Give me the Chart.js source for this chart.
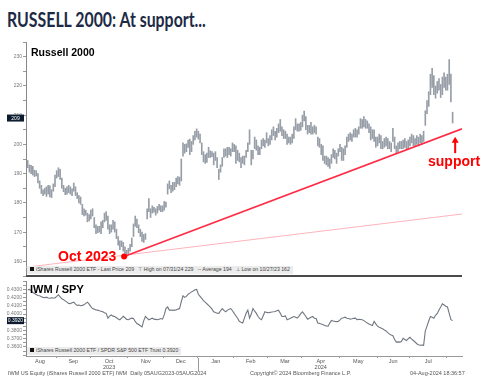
<!DOCTYPE html>
<html>
<head>
<meta charset="utf-8">
<script src="https://cdn.jsdelivr.net/npm/chart.js@4.4.1/dist/chart.umd.min.js"></script>
<style>
body{margin:0;width:480px;height:384px;background:#fff;position:relative;overflow:hidden;font-family:"Liberation Sans",Arial,sans-serif}
.abs{position:absolute;white-space:nowrap;line-height:1}
#title{left:7px;top:9px;font-weight:bold;font-size:20px;font-family:Lato,sans-serif;color:#1d2a45;transform-origin:0 0}
.panel{font-weight:bold;color:#000}
.red{font-weight:bold;color:#ff0000;font-size:14px}
.leg{font-size:5.2px;color:#444;background:#ececec;padding:1px 3px;height:6px}
.leg b{display:inline-block;width:4px;height:4px;background:#111;margin-right:2px}
.foot{font-size:5.5px;color:#555}
canvas{position:absolute;left:0}
</style>
</head>
<body>
<div id="title" class="abs">RUSSELL 2000: At support...</div>
<canvas id="top" style="top:38px"></canvas>
<canvas id="bottom" style="top:277px"></canvas>
<div class="abs panel" style="left:31px;top:47px;font-size:10.5px">Russell 2000</div>
<div class="abs panel" style="left:30px;top:284px;font-size:11px">IWM / SPY</div>
<div class="abs red" style="left:58px;top:249px">Oct 2023</div>
<div class="abs red" style="left:428px;top:154px">support</div>
<div class="abs leg" style="left:27px;top:266px"><b></b>iShares Russell 2000 ETF - Last Price 209 &nbsp;&nbsp;⊤ High on 07/31/24 229 &nbsp;&nbsp;-- Average 194 &nbsp;&nbsp;⊥ Low on 10/27/23 162</div>
<div class="abs leg" style="left:27px;top:347px"><b></b>iShares Russell 2000 ETF / SPDR S&amp;P 500 ETF Trust 0.3920</div>
<div class="abs foot" style="left:8px;top:371px">IWM US Equity (iShares Russell 2000 ETF) IWM &nbsp;Daily 05AUG2023-05AUG2024</div>
<div class="abs foot" style="left:250px;top:371px">Copyright© 2024 Bloomberg Finance L.P.</div>
<div class="abs foot" style="left:410px;top:371px">04-Aug-2024 18:36:57</div>
<script>
// trading days 07 Aug 2023 .. 02 Aug 2024, index 0..249
const lows = [
192.0,190.5,190.0,189.5,189.0,189.2,186.8,185.0,183.2,182.5,
183.0,182.2,183.0,182.0,181.8,184.0,185.5,188.5,189.0,
188.0,185.0,183.8,182.8,183.0,183.5,183.0,182.5,184.0,182.5,
181.5,180.0,179.5,176.0,175.5,175.8,173.5,173.8,174.5,175.5,
171.5,169.5,169.8,170.0,169.5,171.5,173.5,174.0,171.0,169.5,
170.0,171.0,170.0,167.8,165.5,164.0,165.0,163.5,162.5,161.6,
162.5,163.5,
165.0,168.5,172.0,171.5,169.8,168.5,166.8,166.5,167.5,174.5,
177.0,175.0,176.5,176.8,175.8,176.5,177.5,177.0,177.0,177.5,178.5,
183.0,184.8,183.5,184.0,184.5,185.5,186.5,186.0,187.5,196.0,
197.0,197.5,199.0,196.5,197.5,200.0,201.5,202.5,201.8,200.5,
196.5,194.0,193.5,193.8,195.5,195.5,195.8,193.0,194.5,192.0,
188.0,190.5,192.5,195.5,196.0,195.5,196.5,196.0,197.5,197.5,193.5,
194.5,194.0,192.0,193.5,193.0,195.5,197.5,200.0,193.0,195.0,
198.5,198.0,196.5,196.5,198.5,199.5,199.0,200.5,199.5,200.0,
201.5,203.0,201.5,202.5,204.0,204.5,203.0,202.0,202.0,200.0,
200.5,200.0,200.5,202.0,205.0,204.5,204.5,204.8,206.0,208.0,
205.0,203.5,204.0,203.5,203.5,204.0,203.5,199.5,199.0,196.5,
194.5,193.5,193.0,192.5,191.8,193.5,195.5,195.0,193.5,196.0,197.5,194.5,
194.5,196.5,199.0,201.0,201.5,201.0,202.5,202.5,202.5,203.5,
205.5,205.5,206.0,205.5,205.5,204.0,201.5,202.0,201.0,199.0,199.5,200.5,
198.5,198.5,199.0,199.5,198.5,198.5,197.5,201.0,198.5,197.0,
197.5,198.5,198.5,198.5,199.0,198.5,198.5,199.5,200.5,
199.5,199.5,200.0,199.5,200.5,200.0,201.0,206.5,210.5,213.0,
217.0,219.5,217.0,215.8,217.5,218.5,216.0,217.0,219.5,218.5,218.5,220.5,
214.5,207.3
];
const highs = [
194.5,193.0,192.8,192.5,191.2,191.0,190.0,187.5,186.0,184.5,
185.0,185.5,186.0,185.8,184.5,186.5,189.5,191.0,192.0,
191.5,188.5,186.0,185.0,185.5,186.0,185.5,184.8,186.8,185.5,
183.5,182.5,182.0,179.5,178.0,177.5,176.5,176.0,177.5,178.0,
175.0,172.5,172.0,172.0,173.5,174.0,176.5,177.0,175.5,172.5,
172.5,174.0,173.5,171.0,168.5,167.0,167.0,166.5,165.0,163.8,
164.5,165.8,
168.0,172.8,175.5,174.5,172.5,171.0,170.0,169.2,169.5,178.0,
181.5,178.0,179.0,178.5,178.0,178.8,179.5,179.0,179.0,180.5,180.3,
186.5,187.5,186.0,187.0,187.0,188.5,189.0,188.8,195.0,200.5,
200.0,200.2,201.5,201.8,201.0,203.0,204.5,205.3,204.5,203.5,
200.5,197.5,196.5,197.0,199.0,197.8,197.5,197.0,197.5,195.5,
191.5,193.0,195.5,198.5,198.5,199.0,199.0,198.5,200.5,200.0,199.5,
198.0,197.0,195.5,196.0,196.0,198.0,200.5,205.0,198.0,198.0,
202.5,201.5,199.5,199.0,201.5,202.0,201.5,204.0,202.0,203.0,
205.0,206.0,204.5,205.5,207.0,208.5,206.0,205.0,204.5,203.5,
202.5,202.5,203.5,206.0,208.8,207.0,207.0,207.5,210.0,211.4,
209.5,206.5,206.5,207.5,206.0,206.5,206.0,202.5,202.0,200.0,
199.5,196.0,196.0,195.5,195.0,196.5,198.5,198.0,197.0,198.5,200.0,199.0,
198.5,199.5,202.5,203.5,204.0,203.5,205.0,205.5,205.0,206.0,
208.8,208.5,209.5,208.5,208.0,207.0,206.0,205.0,205.0,202.5,202.5,203.5,
203.0,201.0,202.0,202.5,202.0,201.0,200.5,205.5,202.5,199.5,
200.5,201.0,201.0,201.5,202.0,201.0,201.5,202.5,203.5,
203.0,202.0,203.0,202.5,203.5,203.0,204.5,211.5,215.0,218.0,
224.0,226.0,223.5,220.0,221.5,222.5,220.5,223.0,224.5,223.0,224.0,229.0,
224.0,211.0
];
const ratio = [
0.4295,0.4300,0.4285,0.4262,0.4250,0.4238,0.4225,0.4222,0.4210,0.4203,
0.4198,0.4205,0.4195,0.4192,0.4198,0.4195,0.4196,0.4215,0.4235,0.4210,
0.4185,0.4175,0.4160,0.4145,0.4130,0.4125,0.4138,0.4145,0.4120,0.4106,
0.4110,0.4102,0.4106,0.4112,0.4130,0.4145,0.4120,0.4090,0.4067,0.4060,
0.4050,0.4048,0.4040,0.4035,0.4028,0.4015,0.4008,0.3950,0.3975,0.3989,
0.3975,0.3970,0.3955,0.3940,0.3931,0.3950,0.3972,0.3955,0.3935,0.3931,
0.3942,0.3950,0.3945,0.3910,0.3885,0.3872,0.3858,0.3844,0.3920,0.3970,
0.3950,0.3931,0.3940,0.3950,0.3938,0.3935,0.3931,0.3938,0.3945,0.3938,
0.3990,0.4067,0.4086,0.4048,0.4050,0.4045,0.4048,0.4050,0.4060,0.4067,
0.4150,0.4222,0.4203,0.4215,0.4241,0.4255,0.4270,0.4280,0.4295,0.4300,
0.4241,0.4215,0.4190,0.4164,0.4145,0.4125,0.4106,0.4085,0.4060,0.4028,
0.4018,0.4010,0.4008,0.4040,0.4067,0.4045,0.4028,0.4045,0.4060,0.4067,
0.4040,0.4008,0.3980,0.3950,0.3911,0.3900,0.3892,0.3950,0.4010,0.4048,
0.3950,0.4000,0.4067,0.4035,0.4008,0.3970,0.3945,0.3931,0.3980,0.4028,
0.4020,0.4016,0.4020,0.4025,0.4028,0.4032,0.4040,0.4048,0.4010,0.3970,
0.3972,0.3978,0.3931,0.3940,0.3950,0.3962,0.3970,0.3960,0.3950,0.3975,
0.4005,0.4028,0.4000,0.3970,0.3938,0.3950,0.3960,0.3970,0.3950,0.3945,
0.3892,0.3885,0.3878,0.3872,0.3862,0.3855,0.3853,0.3890,0.3923,0.3915,
0.3911,0.3908,0.3911,0.3930,0.3950,0.3955,0.3962,0.3950,0.3945,0.3938,
0.3942,0.3948,0.3950,0.3931,0.3935,0.3933,0.3931,0.3920,0.3905,0.3892,
0.3880,0.3870,0.3861,0.3911,0.3880,0.3853,0.3840,0.3830,0.3821,0.3805,
0.3795,0.3775,0.3756,0.3745,0.3737,0.3690,0.3659,0.3662,0.3659,0.3666,
0.3705,0.3690,0.3678,0.3700,0.3717,0.3695,0.3678,0.3660,0.3639,0.3628,
0.3620,0.3622,0.3620,0.3795,0.3853,0.3915,0.3970,0.3960,0.3950,0.3985,
0.4008,0.4050,0.4086,0.4125,0.4110,0.4095,0.4086,0.4008,0.3931,0.3920
];
const monthNames = ['Aug','Sep','Oct','Nov','Dec','Jan','Feb','Mar','Apr','May','Jun','Jul'];
const yearUnder  = ['','','2023','','','','','','2024','','',''];
const monthLabelAt = [7.2,26.7,47.7,69.2,89.7,110.2,130.7,150.7,171.7,193.7,214.2,234.7];
const monthEdgeAt = [16.7,36.7,58.7,79.7,99.7,120.7,140.7,160.7,182.7,204.7,223.7,245.7];
const yearEdgeAt = 99.7;
const lastPrice = 209, lastRatio = 0.3920;
const supportX = [56.5, 254.5], supportY = [161.7, 205.3];
const faintX = [-1, 254.5], faintY = [158.0, 176.2];
const arrowAt = [250.5, 202.6, 197.0];   // x, tip, tail

const xMin = -1, xMax = 254.5;
const W = 480;

function sizeCanvas(id, h) {
    const c = document.getElementById(id);
    c.width = W; c.height = h;
    c.style.width = W + 'px'; c.style.height = h + 'px';
    return c;
}

function lastLabel(text, yPix, ctx) {
    ctx.save();
    ctx.fillStyle = '#0c1c2e';
    ctx.fillRect(7, yPix - 3.5, 17, 7);
    ctx.fillStyle = '#fff';
    ctx.font = '5px "Liberation Sans", Arial';
    ctx.textAlign = 'center';
    ctx.textBaseline = 'middle';
    ctx.fillText(text, 15.5, yPix + 0.3);
    ctx.restore();
}

const topPlugin = {
    id: 'topAnnot',
    afterDatasetsDraw(chart) {
        const {ctx, chartArea: a, scales: {x, y}} = chart;
        ctx.save();
        ctx.fillStyle = '#4a4a4a';
        ctx.fillRect(a.left, a.bottom - 1, a.right - a.left, 2);
        const ax = x.getPixelForValue(arrowAt[0]);
        const tip = y.getPixelForValue(arrowAt[1]);
        const tail = y.getPixelForValue(arrowAt[2]);
        ctx.strokeStyle = '#ff0000';
        ctx.lineWidth = 2;
        ctx.beginPath(); ctx.moveTo(ax, tail); ctx.lineTo(ax, tip + 4); ctx.stroke();
        ctx.fillStyle = '#ff0000';
        ctx.beginPath();
        ctx.moveTo(ax, tip); ctx.lineTo(ax - 3.5, tip + 6); ctx.lineTo(ax + 3.5, tip + 6);
        ctx.closePath(); ctx.fill();
        ctx.restore();
    },
    afterDraw(chart) {
        lastLabel(String(lastPrice), chart.scales.y.getPixelForValue(lastPrice), chart.ctx);
    }
};

const bottomPlugin = {
    id: 'bottomAnnot',
    afterDraw(chart) {
        const {ctx, chartArea: a, scales: {x, y}} = chart;
        ctx.save();
        ctx.strokeStyle = '#999';
        ctx.lineWidth = 1;
        const yx = Math.round(x.getPixelForValue(yearEdgeAt)) + 0.5;
        ctx.beginPath(); ctx.moveTo(yx, a.bottom + 2); ctx.lineTo(yx, a.bottom + 15); ctx.stroke();
        ctx.restore();
        lastLabel(lastRatio.toFixed(4), y.getPixelForValue(lastRatio), ctx);
    }
};

function yAxis(min, max, step, fmt, showLabel) {
    return {
        min: min, max: max,
        afterBuildTicks: (ax) => {
            const t = [];
            for (let v = min; v <= max + step / 10; v += step) t.push({value: +v.toFixed(6)});
            ax.ticks = t;
        },
        afterFit: (ax) => { ax.width = 26; },
        ticks: {
            autoSkip: false,
            padding: 1,
            color: '#777',
            font: {size: 5, family: '"Liberation Sans", Arial'},
            callback: (v) => showLabel(v) ? fmt(v) : ''
        },
        grid: {drawOnChartArea: false, tickLength: 3, color: '#999'},
        border: {color: '#888'}
    };
}

const xTicks = monthEdgeAt.map(v => ({value: v})).concat(monthLabelAt.map(v => ({value: v})))
    .sort((a, b) => a.value - b.value);

// ---- top chart: daily high-low bars
const cTop = sizeCanvas('top', 242);
new Chart(cTop.getContext('2d'), {
    data: {
        datasets: [{
            type: 'bar',
            data: lows.map((l, i) => ({x: i, y: [l, highs[i]]})),
            backgroundColor: '#979ea7',
            barThickness: 1,
            grouped: false,
            order: 3
        }, {
            type: 'line',
            data: faintX.map((v, i) => ({x: v, y: faintY[i]})),
            borderColor: '#ffb3bb',
            borderWidth: 1,
            pointRadius: 0,
            order: 2
        }, {
            type: 'line',
            data: supportX.map((v, i) => ({x: v, y: supportY[i]})),
            borderColor: '#ff2b45',
            borderWidth: 1.6,
            pointRadius: 0,
            order: 1
        }, {
            type: 'scatter',
            data: [{x: supportX[0], y: supportY[0]}],
            backgroundColor: '#ff0000',
            borderWidth: 0,
            pointRadius: 3,
            order: 0
        }]
    },
    options: {
        responsive: false,
        animation: false,
        layout: {padding: {left: 0, right: 18, top: 2, bottom: 3}},
        plugins: {legend: {display: false}, tooltip: {enabled: false}},
        scales: {
            x: {type: 'linear', min: xMin, max: xMax, display: false, offset: false},
            y: yAxis(155, 235, 5, v => String(v), v => v % 10 === 0 && v >= 160 && v <= 230)
        }
    },
    plugins: [topPlugin]
});

// ---- bottom chart: IWM / SPY ratio
const cBot = sizeCanvas('bottom', 107);
new Chart(cBot.getContext('2d'), {
    type: 'line',
    data: {
        datasets: [{
            data: ratio.map((v, i) => ({x: i, y: v})),
            borderColor: '#707780',
            borderWidth: 1.1,
            pointRadius: 0,
            tension: 0
        }]
    },
    options: {
        responsive: false,
        animation: false,
        layout: {padding: {left: 0, right: 18, top: 1, bottom: 0}},
        plugins: {legend: {display: false}, tooltip: {enabled: false}},
        scales: {
            x: {
                type: 'linear', min: xMin, max: xMax,
                afterBuildTicks: (ax) => { ax.ticks = xTicks.map(t => ({value: t.value})); },
                afterFit: (ax) => { ax.height = 28; },
                ticks: {
                    autoSkip: false, maxRotation: 0, padding: 0,
                    color: '#555',
                    font: {size: 5.5, family: '"Liberation Sans", Arial'},
                    callback: (v) => {
                        const k = monthLabelAt.indexOf(v);
                        if (k < 0) return '';
                        return yearUnder[k] ? [monthNames[k], yearUnder[k]] : monthNames[k];
                    }
                },
                grid: {
                    drawOnChartArea: false, tickLength: 2,
                    color: (ctx) => (ctx.tick && monthEdgeAt.indexOf(ctx.tick.value) >= 0) ? '#999' : 'rgba(0,0,0,0)'
                },
                border: {color: '#999'}
            },
            y: yAxis(0.35, 0.44, 0.005, v => v.toFixed(4),
                v => Math.abs(v * 100 - Math.round(v * 100)) < 1e-6 && v >= 0.3599 && v <= 0.4301)
        }
    },
    plugins: [bottomPlugin]
});
// manual y range so the panel reaches to the axis line like the reference
const bottomChart = Chart.getChart(cBot);
bottomChart.options.scales.y.min = 0.349;
bottomChart.options.scales.y.max = 0.4402;
bottomChart.update();

const t = document.getElementById('title');
t.style.transform = 'scaleX(' + (199 / t.offsetWidth) + ')';
</script>
</body>
</html>
